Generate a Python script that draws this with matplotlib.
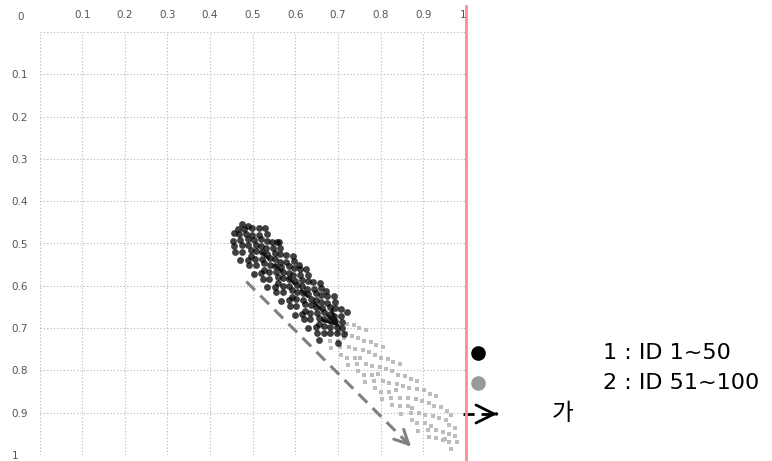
import matplotlib
matplotlib.use("Agg")
from matplotlib import pyplot as plt

# group 1 (ID 1~50)
black_x = [0.455, 0.465, 0.475, 0.453, 0.468, 0.4805, 0.488, 0.456, 0.471, 0.4835, 0.4985,
           0.459, 0.474, 0.489, 0.499, 0.514, 0.4745, 0.4895, 0.502, 0.5145, 0.5295,
           0.470, 0.495, 0.5075, 0.520, 0.5325, 0.488, 0.508, 0.5205, 0.533, 0.4955,
           0.491, 0.506, 0.521, 0.531, 0.546, 0.5065, 0.5215, 0.534, 0.5465, 0.5615,
           0.502, 0.527, 0.5395, 0.552, 0.5645, 0.520, 0.540, 0.5525, 0.565, 0.5275,
           0.523, 0.538, 0.553, 0.563, 0.578, 0.5385, 0.5535, 0.566, 0.5785, 0.5935,
           0.534, 0.559, 0.5715, 0.584, 0.5965, 0.552, 0.572, 0.5845, 0.597, 0.5595,
           0.555, 0.570, 0.585, 0.595, 0.610, 0.5705, 0.5855, 0.598, 0.6105, 0.6255,
           0.566, 0.591, 0.6035, 0.616, 0.6285, 0.584, 0.604, 0.6165, 0.629, 0.5915,
           0.587, 0.602, 0.617, 0.627, 0.642, 0.6025, 0.6175, 0.630, 0.6425, 0.6575,
           0.598, 0.623, 0.6355, 0.648, 0.6605, 0.616, 0.636, 0.6485, 0.661, 0.6235,
           0.619, 0.634, 0.649, 0.659, 0.674, 0.6345, 0.6495, 0.662, 0.6745, 0.6895,
           0.630, 0.655, 0.6675, 0.680, 0.6925, 0.648, 0.668, 0.6805, 0.693, 0.6555,
           0.651, 0.666, 0.681, 0.691, 0.706, 0.6665, 0.6815, 0.694, 0.7065,
           0.682, 0.697, 0.7095, 0.6975, 0.710, 0.713,
           0.558, 0.609, 0.672, 0.722, 0.700, 0.655]
black_y = [0.475, 0.465, 0.455, 0.493, 0.478, 0.4655, 0.458, 0.506, 0.491, 0.4785, 0.4635,
           0.519, 0.504, 0.489, 0.479, 0.464, 0.5195, 0.5045, 0.492, 0.4795, 0.4645,
           0.540, 0.515, 0.5025, 0.490, 0.4775, 0.538, 0.518, 0.5055, 0.493, 0.5305,
           0.551, 0.536, 0.521, 0.511, 0.496, 0.5515, 0.5365, 0.524, 0.5115, 0.4965,
           0.572, 0.547, 0.5345, 0.522, 0.5095, 0.570, 0.550, 0.5375, 0.525, 0.5625,
           0.583, 0.568, 0.553, 0.543, 0.528, 0.5835, 0.5685, 0.556, 0.5435, 0.5285,
           0.604, 0.579, 0.5665, 0.554, 0.5415, 0.602, 0.582, 0.5695, 0.557, 0.5945,
           0.615, 0.600, 0.585, 0.575, 0.560, 0.6155, 0.6005, 0.588, 0.5755, 0.5605,
           0.636, 0.611, 0.5985, 0.586, 0.5735, 0.634, 0.614, 0.6015, 0.589, 0.6265,
           0.647, 0.632, 0.617, 0.607, 0.592, 0.6475, 0.6325, 0.620, 0.6075, 0.5925,
           0.668, 0.643, 0.6305, 0.618, 0.6055, 0.666, 0.646, 0.6335, 0.621, 0.6585,
           0.679, 0.664, 0.649, 0.639, 0.624, 0.6795, 0.6645, 0.652, 0.6395, 0.6245,
           0.700, 0.675, 0.6625, 0.650, 0.6375, 0.698, 0.678, 0.6655, 0.653, 0.6905,
           0.711, 0.696, 0.681, 0.671, 0.656, 0.7115, 0.6965, 0.684, 0.6715,
           0.712, 0.697, 0.6845, 0.7125, 0.700, 0.713,
           0.497, 0.551, 0.612, 0.662, 0.735, 0.728]

# group 2 (ID 51~100)
gray_x = [0.680, 0.700, 0.720, 0.700, 0.7175, 0.7375, 0.6825, 0.705, 0.7325, 0.750,
          0.725, 0.7475, 0.7075, 0.765, 0.720, 0.740, 0.760, 0.740, 0.7575, 0.7775, 0.7225,
          0.745, 0.7725, 0.790, 0.765, 0.7875, 0.7475, 0.805, 0.760, 0.780, 0.800,
          0.780, 0.7975, 0.8175, 0.7625, 0.785, 0.8125, 0.830, 0.805, 0.8275, 0.7875, 0.845,
          0.800, 0.820, 0.840, 0.820, 0.8375, 0.8575, 0.8025, 0.825, 0.8525, 0.870,
          0.845, 0.8675, 0.8275, 0.885, 0.845, 0.865, 0.885, 0.865, 0.8825, 0.9025, 0.8475,
          0.870, 0.8975, 0.915, 0.890, 0.9125, 0.8725, 0.930, 0.885, 0.905, 0.925,
          0.905, 0.9225, 0.9425, 0.8875, 0.910, 0.9375, 0.955, 0.930, 0.9525, 0.9125, 0.965,
          0.930, 0.945, 0.960, 0.945, 0.960, 0.975, 0.960, 0.975, 0.965, 0.980,
          0.713, 0.752, 0.793, 0.836, 0.874, 0.918, 0.951]
gray_y = [0.730, 0.710, 0.690, 0.730, 0.7125, 0.6925, 0.7475, 0.745, 0.7175, 0.700,
          0.745, 0.7225, 0.7625, 0.705, 0.770, 0.750, 0.730, 0.770, 0.7525, 0.7325, 0.7875,
          0.785, 0.7575, 0.740, 0.785, 0.7625, 0.8025, 0.745, 0.810, 0.790, 0.770,
          0.810, 0.7925, 0.7725, 0.8275, 0.825, 0.7975, 0.780, 0.825, 0.8025, 0.8425, 0.785,
          0.850, 0.830, 0.810, 0.850, 0.8325, 0.8125, 0.8675, 0.865, 0.8375, 0.820,
          0.865, 0.8425, 0.8825, 0.825, 0.885, 0.865, 0.845, 0.885, 0.8675, 0.8475, 0.9025,
          0.900, 0.8725, 0.855, 0.900, 0.8775, 0.9175, 0.860, 0.925, 0.905, 0.885,
          0.925, 0.9075, 0.8875, 0.9425, 0.940, 0.9125, 0.895, 0.940, 0.9175, 0.9575, 0.905,
          0.960, 0.945, 0.930, 0.965, 0.950, 0.935, 0.970, 0.955, 0.985, 0.970,
          0.724, 0.771, 0.808, 0.847, 0.889, 0.931, 0.962]

ticks = [0.1, 0.2, 0.3, 0.4, 0.5, 0.6, 0.7, 0.8, 0.9, 1.0]
tick_labels = ["0.1", "0.2", "0.3", "0.4", "0.5", "0.6", "0.7", "0.8", "0.9", "1"]

# direction arrows (start, end)
arrow_1 = [(0.52, 0.52), (0.703, 0.697)]
arrow_2 = [(0.485, 0.590), (0.871, 0.980)]

legend_labels = ["1 : ID 1~50", "2 : ID 51~100", "가"]

fig = plt.figure(figsize=(7.72, 4.61), dpi=100)
ax = fig.add_axes([39.5 / 772, 6 / 461, 426.5 / 772, 423 / 461])

ax.scatter(gray_x, gray_y, s=5, marker="s", color="#bdbdbd", linewidths=0, zorder=2)
ax.scatter(black_x, black_y, s=24, marker="o", color="black", alpha=0.75, linewidths=0, zorder=3)


def draw_arrow(p0, p1, color, transform=None, lw=2.0, head=0.7):
    kw = {} if transform is None else {"transform": transform}
    ax.plot([p0[0], p1[0]], [p0[1], p1[1]], ls=(0, (4, 2.5)), color=color, lw=lw,
            clip_on=False, zorder=4, **kw)
    dx, dy = p1[0] - p0[0], p1[1] - p0[1]
    tail = (p1[0] - dx * 0.02, p1[1] - dy * 0.02)
    coords = "data" if transform is None else "axes fraction"
    ax.annotate("", xy=p1, xytext=tail, xycoords=coords, textcoords=coords,
                arrowprops=dict(arrowstyle="->,head_length=%s,head_width=%s" % (head, head * 0.5),
                                color=color, lw=lw, shrinkA=0, shrinkB=0),
                annotation_clip=False, zorder=5)


draw_arrow(arrow_1[0], arrow_1[1], "#111111", lw=2.0, head=1.0)
draw_arrow(arrow_2[0], arrow_2[1], "#808080", lw=2.2, head=1.0)

ax.set_xlim(0, 1)
ax.set_ylim(1, 0)
ax.xaxis.tick_top()
ax.set_xticks(ticks)
ax.set_xticklabels(tick_labels)
ax.set_yticks(ticks)
ax.set_yticklabels(tick_labels)
ax.set_xticks([0], minor=True)
ax.set_yticks([0], minor=True)
ax.tick_params(which="both", length=0, labelsize=7.5, labelcolor="#555555")
ax.tick_params(axis="x", pad=9)
ax.tick_params(axis="y", pad=20)
for lab in ax.get_yticklabels():
    lab.set_horizontalalignment("left")
ax.get_xticklabels()[-1].set_horizontalalignment("right")
ax.grid(True, which="both", ls=(0, (1, 2)), color="#b4b4b4", lw=0.8)
ax.set_axisbelow(True)
for sp in ax.spines.values():
    sp.set_visible(False)
ax.text(-0.045, 1.035, "0", transform=ax.transAxes, fontsize=7.5, color="#555555",
        ha="center", va="center")

ax.axvline(1.0, ymin=-0.02, ymax=1.061, color="#ff8c8c", lw=2, clip_on=False, zorder=6)

# legend drawn by hand outside the plot area
ax.plot([1.028], [0.241], marker="o", ms=9.5, color="black", transform=ax.transAxes, clip_on=False)
ax.plot([1.028], [0.170], marker="o", ms=9.5, color="#999999", transform=ax.transAxes, clip_on=False)
draw_arrow((0.993, 0.097), (1.073, 0.097), "black", transform=ax.transAxes, lw=2.0, head=1.3)
ax.text(1.321, 0.241, legend_labels[0], transform=ax.transAxes, fontsize=16,
        family="DejaVu Sans", va="center", ha="left")
ax.text(1.321, 0.170, legend_labels[1], transform=ax.transAxes, fontsize=16,
        family="DejaVu Sans", va="center", ha="left")
ax.text(1.202, 0.097, legend_labels[2], transform=ax.transAxes, fontsize=17,
        family=["Noto Sans CJK KR", "DejaVu Sans"], va="center", ha="left")

fig.savefig("out.png", dpi=100)
